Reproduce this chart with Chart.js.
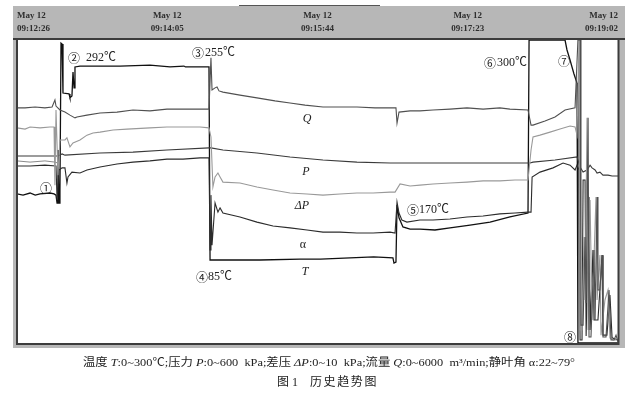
<!DOCTYPE html>
<html>
<head>
<meta charset="utf-8">
<script src="https://cdn.jsdelivr.net/npm/chart.js@4/dist/chart.umd.min.js"></script>
<style>
    html, body { margin: 0; padding: 0; background: #fff; }
    #wrap { width: 636px; height: 398px; position: relative; }
</style>
</head>
<body>
<div id="wrap"><canvas id="trend"></canvas></div>
<script>
// time axis (seconds from 09:12:26)
const tickSeconds = [0, 99, 198, 297, 396];
const tickDates = ['May 12', 'May 12', 'May 12', 'May 12', 'May 12'];
const tickTimes = ['09:12:26', '09:14:05', '09:15:44', '09:17:23', '09:19:02'];

// series values: [seconds, % of full scale]
const seriesT = [
    [0, 49.2], [4, 48.8], [8.6, 49.5], [12, 48.8], [15.2, 49.2], [21.7, 49.5], [24.4, 49.2], [25.7, 48.8],
    [26.4, 46.2], [27.0, 63.7], [27.7, 46.2], [28.3, 50.5], [29.0, 99.0], [29.7, 98.7], [30.3, 82.5],
    [34.3, 82.2], [34.9, 80.9], [36.2, 81.5], [36.9, 89.4], [37.6, 84.2], [38.2, 91.1], [41.5, 91.4],
    [67.9, 91.4], [87.6, 91.7], [100.8, 91.1], [110, 91.4], [111, 91.1], [120.6, 91.1], [126.5, 91.1],
    [127.2, 27.4], [160.1, 27.4], [186.5, 27.7], [200, 27.7], [219.4, 28.1], [235, 28.4], [247.7, 28.1],
    [248.4, 26.4], [249.7, 26.7], [250.4, 45.5], [251.7, 41.3], [254.3, 38.3], [259.0, 37.6], [265.5, 37.6],
    [275.4, 37.3], [285.3, 38.0], [298.5, 38.9], [311.7, 39.9], [324.8, 41.6], [336.7, 42.9], [337.4, 100],
    [361.1, 100], [362.4, 96.7], [364.4, 93.4], [365.7, 91.1], [367.0, 88.8], [369.0, 85.8], [369.6, 0], [396, 0]
];
const seriesQ = [
    [0, 77.6], [5.3, 77.6], [11.9, 77.9], [18.4, 77.6], [23.1, 77.9], [25.0, 80.2], [25.7, 78.2], [28.3, 76.9],
    [31.6, 76.2], [34.9, 75.2], [38.2, 74.3], [39.5, 74.6], [46.1, 75.2], [54.7, 75.9], [65.9, 76.2],
    [76.4, 76.9], [87.6, 76.6], [98.8, 77.2], [109.4, 77.2], [120.6, 77.2], [126.5, 77.2], [127.8, 94.1],
    [128.5, 83.5], [130.5, 84.2], [131.8, 84.5], [133.1, 83.2], [135.7, 82.8], [146.9, 81.8], [158.1, 80.9],
    [170.0, 79.9], [179.9, 79.2], [189.8, 78.5], [201.6, 77.9], [212.8, 77.9], [224.0, 77.9], [235.9, 77.6],
    [245.8, 77.6], [249.7, 77.6], [250.4, 72.6], [251.7, 76.2], [259.0, 76.6], [265.5, 76.6], [274.1, 76.9],
    [285.3, 77.2], [296.5, 77.6], [307.1, 77.2], [318.2, 77.6], [324.8, 77.2], [336.7, 76.9], [338.7, 71.9],
    [340.0, 71.9], [347.9, 73.3], [354.5, 74.6], [361.1, 76.9], [367.7, 77.6], [369.6, 100], [371.0, 100],
    [371.6, 5.9], [373.0, 5.9], [374.3, 35.0], [375.0, 13.2], [376.3, 74.3], [376.9, 2.0], [378.2, 2.0],
    [380.2, 30.7], [380.9, 7.6], [382.2, 48.2], [382.8, 17.5], [384.1, 17.5], [385.5, 29.0], [386.1, 2.0],
    [388.1, 2.0], [390.1, 17.5], [391.4, 1.0], [393.4, 1.0], [394.7, 2.6], [396, 0.3]
];
const seriesDP = [
    [0, 71.0], [5.3, 70.6], [8.6, 71.3], [15.2, 71.0], [21.7, 71.3], [24.4, 71.3], [25.0, 52.1], [25.7, 76.9],
    [27.0, 55.4], [28.3, 67.0], [31.6, 67.0], [32.9, 67.7], [34.9, 64.7], [36.9, 66.0], [41.5, 67.0],
    [46.1, 68.6], [50.1, 69.3], [54.7, 69.6], [63.3, 70.3], [72.5, 70.6], [87.6, 71.0], [98.8, 71.3],
    [120.6, 71.3], [126.5, 71.0], [127.8, 68.0], [129.1, 51.5], [130.5, 54.8], [132.4, 56.1], [133.8, 54.8],
    [135.7, 53.1], [146.9, 52.8], [158.1, 51.5], [168.7, 50.5], [179.9, 49.5], [191.1, 49.2], [201.6, 48.8],
    [212.8, 49.2], [224.0, 49.5], [234.6, 49.5], [245.8, 49.8], [249.1, 49.8], [252.4, 52.5], [259.0, 51.8],
    [265.5, 52.1], [274.1, 52.5], [285.3, 52.8], [296.5, 53.1], [307.1, 53.5], [318.2, 53.5], [328.1, 53.8],
    [336.7, 53.8], [338.7, 63.7], [340.0, 68.0], [344.6, 68.6], [351.2, 69.6], [357.8, 70.6], [364.4, 71.6],
    [367.7, 71.3], [369.0, 68.6], [370.3, 100], [371.0, 4.3], [372.3, 4.3], [373.6, 35.0], [374.3, 14.2],
    [375.6, 74.3], [376.3, 4.3], [377.6, 47.2], [378.9, 7.6], [381.5, 48.2], [382.2, 14.2], [384.1, 29.0],
    [384.8, 2.6], [387.4, 14.2], [389.4, 17.5], [390.7, 1.7], [392.7, 1.0], [396, 1.0]
];
const seriesP = [
    [0, 61.7], [15.2, 61.7], [27.0, 61.7], [29.7, 62.4], [31.6, 62.0], [54.7, 62.7], [76.4, 63.0],
    [98.8, 63.7], [126.5, 64.4], [127.8, 64.4], [135.7, 63.7], [158.1, 62.7], [179.9, 61.4], [201.6, 60.4],
    [224.0, 59.7], [245.8, 59.4], [265.5, 59.4], [305.1, 59.4], [338.0, 59.4], [340.0, 59.7], [354.5, 60.4],
    [369.0, 61.4], [371.0, 58.1], [373.0, 56.4], [375.6, 57.1], [377.6, 58.7], [378.9, 57.8], [380.9, 57.1],
    [382.2, 56.1], [384.1, 56.4], [386.1, 55.4], [389.4, 55.4], [392.1, 55.1], [396, 55.1]
];
const seriesAlpha = [
    [0, 58.4], [8.6, 58.4], [18.4, 58.7], [25.7, 58.4], [26.4, 47.2], [27.7, 57.1], [29.7, 57.8], [31.6, 57.8],
    [32.9, 52.8], [33.6, 54.8], [36.2, 56.4], [41.5, 56.1], [46.1, 57.1], [54.7, 58.1], [65.9, 59.1],
    [76.4, 59.7], [87.6, 60.1], [98.8, 60.7], [109.4, 60.7], [120.6, 61.1], [126.5, 61.1], [127.2, 30.7],
    [127.8, 48.8], [128.5, 32.3], [130.5, 46.2], [132.4, 43.2], [133.8, 44.6], [135.7, 42.9], [146.9, 41.6],
    [158.1, 39.9], [168.7, 38.6], [179.9, 38.0], [191.1, 37.3], [201.6, 36.6], [212.8, 36.6], [224.0, 36.3],
    [234.6, 36.3], [245.8, 36.6], [249.1, 36.3], [250.4, 46.5], [251.7, 42.9], [253.6, 40.6], [256.9, 39.9],
    [265.5, 40.6], [274.1, 40.6], [285.3, 40.9], [296.5, 41.6], [307.1, 41.9], [318.2, 42.6], [328.1, 42.9],
    [336.7, 43.2], [338.7, 43.2], [339.4, 54.8], [344.6, 56.4], [353.2, 57.8], [359.8, 59.4], [364.4, 58.7],
    [367.7, 57.1], [369.0, 58.7], [370.3, 57.1], [371.0, 1.0], [372.3, 1.0], [373.0, 53.8], [374.3, 53.8],
    [375.0, 2.3], [376.9, 48.2], [377.6, 4.3], [379.5, 30.7], [380.2, 7.6], [382.8, 7.6], [385.5, 29.0],
    [386.1, 2.6], [388.7, 2.6], [390.7, 15.8], [392.1, 1.7], [396, 1.0]
];
const seriesExtra = [
    [0, 60.1], [8.6, 59.7], [18.4, 60.1], [25.0, 59.7], [27.0, 59.4]
];

const seriesLabels = ['T', 'Q', 'ΔP', 'P', 'α', ''];
const captionParts = [
    ['温度 ', false], ['T', true], [':0~300℃;压力 ', false], ['P', true], [':0~600  kPa;差压 ', false],
    ['ΔP', true], [':0~10  kPa;流量 ', false], ['Q', true], [':0~6000  m³/min;静叶角 α:22~79°', false]
];
const figureTitle = ['图 1', '历史趋势图'];

const serifFont = "'Liberation Serif', 'Noto Sans CJK SC', serif";
const cjkFont = "'Noto Sans CJK SC', sans-serif";

function drawMarker(c, mark, text, x, y, textX) {
    c.font = '12px ' + cjkFont;
    c.textAlign = 'center';
    c.fillText(mark, x, y);
    if (text) {
        c.font = '12px ' + serifFont;
        c.textAlign = 'left';
        c.fillText(text, textX, y);
    }
}

const framePlugin = {
    id: 'frame',
    beforeDraw(chart) {
        const c = chart.ctx;
        c.save();
        c.fillStyle = '#ffffff';
        c.fillRect(0, 0, chart.width, chart.height);
        c.fillStyle = '#b7b7b7';
        c.fillRect(13, 6, 612, 33);
        c.fillRect(13, 38, 4, 310);
        c.fillRect(618, 38, 7, 310);
        c.fillRect(13, 343, 612, 5);
        c.restore();
    },
    afterDraw(chart) {
        const c = chart.ctx;
        c.save();
        // frame lines
        c.strokeStyle = '#3c3c3c';
        c.lineWidth = 2;
        c.beginPath();
        c.moveTo(13, 39); c.lineTo(625, 39);
        c.moveTo(17, 39); c.lineTo(17, 345);
        c.moveTo(618.5, 39); c.lineTo(618.5, 345);
        c.moveTo(16, 344); c.lineTo(619, 344);
        c.stroke();
        c.lineWidth = 1;
        c.strokeStyle = '#555';
        c.beginPath();
        c.moveTo(239, 5.5); c.lineTo(380, 5.5);
        c.stroke();

        // event markers
        c.fillStyle = '#222';
        c.textBaseline = 'middle';
        drawMarker(c, '①', '', 46, 188);
        drawMarker(c, '②', '292℃', 74, 58, 86);
        drawMarker(c, '③', '255℃', 198, 53, 205);
        drawMarker(c, '④', '85℃', 202, 277, 208);
        drawMarker(c, '⑤', '170℃', 413, 210, 419);
        drawMarker(c, '⑥', '300℃', 490, 63, 497);
        drawMarker(c, '⑦', '', 564, 61);
        drawMarker(c, '⑧', '', 570, 337);

        // series names
        c.textAlign = 'center';
        c.font = 'italic 12px ' + serifFont;
        c.fillText(seriesLabels[1], 307, 119);
        c.fillText(seriesLabels[3], 306, 172);
        c.fillText(seriesLabels[2], 302, 206);
        c.fillText(seriesLabels[0], 305, 272);
        c.font = '12px ' + serifFont;
        c.fillText(seriesLabels[4], 303, 245);

        // caption line 1
        c.textAlign = 'left';
        const fonts = [ '11px ' + serifFont, 'italic 11px ' + serifFont ];
        let total = 0;
        captionParts.forEach(([t, it]) => { c.font = fonts[it ? 1 : 0]; total += c.measureText(t).width; });
        const target = 492;
        c.save();
        c.translate(329 - target / 2, 363);
        c.scale(target / total, 1);
        let x = 0;
        captionParts.forEach(([t, it]) => {
            c.font = fonts[it ? 1 : 0];
            c.fillText(t, x, 0);
            x += c.measureText(t).width;
        });
        c.restore();

        // caption line 2
        c.font = '12px ' + serifFont;
        c.fillText(figureTitle[0], 277, 383);
        const chars = Array.from(figureTitle[1]);
        chars.forEach((ch, i) => c.fillText(ch, 310 + i * 13.6, 383));
        c.restore();
    }
};

function lineSet(label, data, color, width) {
    return {
        label,
        data,
        borderColor: color,
        borderWidth: width,
        pointRadius: 0,
        tension: 0,
        fill: false,
    };
}

new Chart(document.getElementById('trend'), {
    type: 'line',
    data: {
        datasets: [
            lineSet('Q', seriesQ, '#505050', 1.1),
            lineSet('ΔP', seriesDP, '#999999', 1.1),
            lineSet('extra', seriesExtra, '#8a8a8a', 1),
            lineSet('P', seriesP, '#3a3a3a', 1.1),
            lineSet('α', seriesAlpha, '#2c2c2c', 1.1),
            lineSet('T', seriesT, '#111111', 1.3),
        ],
    },
    options: {
        responsive: true,
        maintainAspectRatio: false,
        animation: false,
        layout: {
            padding: { left: 17, right: 18, top: 0, bottom: 55 },
        },
        plugins: {
            legend: { display: false },
            tooltip: { enabled: false },
        },
        scales: {
            x: {
                type: 'linear',
                position: 'top',
                min: 0,
                max: 396,
                afterBuildTicks(scale) {
                    scale.ticks = tickSeconds.map((v) => ({ value: v }));
                },
                afterFit(scale) {
                    scale.height = 40;
                },
                grid: { display: false, drawTicks: false },
                border: { display: false },
                ticks: {
                    align: 'inner',
                    autoSkip: false,
                    maxRotation: 0,
                    padding: 5,
                    color: '#2e2e2e',
                    font: {
                        family: "'Liberation Serif', serif",
                        size: 9,
                        weight: 'bold',
                        lineHeight: '13px',
                    },
                    callback(value, index) {
                        return [tickDates[index], tickTimes[index]];
                    },
                },
            },
            y: {
                display: false,
                min: 0,
                max: 100,
            },
        },
    },
    plugins: [framePlugin],
});
</script>
</body>
</html>
